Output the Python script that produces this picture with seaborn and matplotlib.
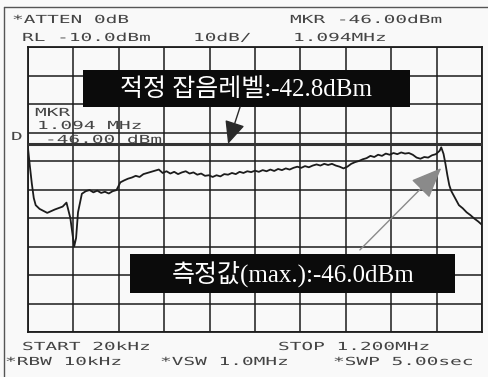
import numpy as np
import seaborn as sns
import matplotlib.pyplot as plt
from matplotlib import patheffects as pe
from matplotlib.transforms import Affine2D
from matplotlib.lines import Line2D
from matplotlib.patches import Rectangle

# spectrum trace (MHz, dBm)
freq_mhz = [0.020, 0.025, 0.030, 0.035, 0.040, 0.050, 0.060, 0.070, 0.080, 0.090,
            0.100, 0.110, 0.120, 0.130, 0.140, 0.145, 0.150, 0.160, 0.170, 0.180,
            0.190, 0.200, 0.210, 0.220, 0.230, 0.240, 0.250, 0.260, 0.270, 0.280,
            0.290, 0.300, 0.310, 0.320, 0.330, 0.340, 0.350, 0.360, 0.370, 0.380,
            0.390, 0.400, 0.410, 0.420, 0.430, 0.440, 0.450, 0.460, 0.470, 0.480,
            0.490, 0.500, 0.510, 0.520, 0.530, 0.540, 0.550, 0.560, 0.570, 0.580,
            0.590, 0.600, 0.610, 0.620, 0.630, 0.640, 0.650, 0.660, 0.670, 0.680,
            0.690, 0.700, 0.710, 0.720, 0.730, 0.740, 0.750, 0.760, 0.770, 0.780,
            0.790, 0.800, 0.810, 0.820, 0.830, 0.840, 0.850, 0.860, 0.870, 0.880,
            0.890, 0.900, 0.910, 0.920, 0.930, 0.940, 0.950, 0.960, 0.970, 0.980,
            0.990, 1.000, 1.010, 1.020, 1.030, 1.040, 1.050, 1.060, 1.070, 1.080,
            1.090, 1.094, 1.100, 1.105, 1.110, 1.115, 1.120, 1.130, 1.140, 1.150,
            1.160, 1.170, 1.180, 1.190, 1.200]
level_dbm = [-45.5, -52.0, -58.0, -63.0, -65.5, -66.8, -67.5, -68.2, -67.6, -67.0,
             -66.5, -66.0, -64.6, -70.0, -80.0, -77.0, -68.0, -61.5, -60.6, -60.2,
             -61.0, -60.4, -61.2, -60.8, -61.4, -60.6, -60.2, -57.5, -56.8, -56.2,
             -55.8, -55.2, -55.6, -54.6, -54.2, -53.8, -53.4, -53.0, -54.2, -53.6,
             -54.4, -53.8, -54.6, -54.0, -53.6, -54.4, -54.0, -54.8, -54.4, -55.2,
             -55.0, -55.6, -55.0, -55.4, -54.6, -54.8, -54.2, -54.6, -53.8, -54.2,
             -53.6, -53.9, -53.4, -53.8, -53.2, -53.6, -53.0, -53.5, -52.8, -53.2,
             -52.6, -53.0, -52.4, -52.0, -52.4, -51.8, -52.2, -51.6, -51.2, -51.6,
             -51.0, -51.4, -51.0, -51.6, -52.0, -52.6, -52.0, -51.0, -50.4, -50.0,
             -49.4, -49.0, -48.2, -48.6, -47.8, -48.2, -47.4, -47.8, -47.2, -47.6,
             -47.0, -47.4, -47.2, -47.8, -48.8, -49.2, -48.6, -48.8, -48.0, -47.6,
             -46.4, -45.2, -47.5, -51.0, -55.0, -58.5, -60.5, -63.0, -65.5, -66.6,
             -68.0, -69.0, -70.2, -71.2, -72.4]

noise_line_dbm = -44.0
marker_freq = 1.094
marker_arrow_dbm = -52.5

top_texts = [("*ATTEN 0dB", 12, 20), ("MKR -46.00dBm", 290, 20),
             ("RL -10.0dBm", 22, 38), ("10dB/", 193, 38), ("1.094MHz", 293, 38)]
bottom_texts = [("START 20kHz", 22, 347), ("STOP 1.200MHz", 278, 347),
                ("*RBW 10kHz", 5, 362), ("*VSW 1.0MHz", 160, 362),
                ("*SWP 5.00sec", 333, 362)]
inner_texts = [("MKR", 35, 113), ("1.094 MHz", 37, 126), ("-46.00 dBm", 45, 140),
               ("D", 11, 137)]

W, H = 489, 377
INK = '#1c1c1c'


class Stretch(pe.AbstractPathEffect):
    """widen text horizontally about its left edge (plotter style lettering)"""
    def __init__(self, sx, x0):
        super().__init__()
        self.sx = sx
        self.x0 = x0

    def draw_path(self, renderer, gc, tpath, affine, rgbFace=None):
        aff = affine + Affine2D().translate(-self.x0, 0).scale(self.sx, 1).translate(self.x0, 0)
        renderer.draw_path(gc, tpath, aff, rgbFace)


sns.set_style('white')
fig = plt.figure(figsize=(W / 100, H / 100), dpi=100, facecolor='#f9f9f9')
ax = fig.add_axes([28 / W, (H - 332) / H, 454 / W, 285 / H])
ax.set_facecolor('#f9f9f9')

sns.lineplot(x=freq_mhz, y=level_dbm, ax=ax, color=INK, lw=1.3)
ax.axhline(noise_line_dbm, color='#333333', lw=2.2, zorder=3)

ax.set_xlim(0.02, 1.20)
ax.set_ylim(-110, -10)
ax.set_xticks(np.linspace(0.02, 1.20, 11))
ax.set_yticks(np.arange(-110, -9, 10))
ax.tick_params(length=0, labelbottom=False, labelleft=False)
ax.grid(True, color=INK, lw=1.1)
ax.set_xlabel('')
ax.set_ylabel('')
for s in ax.spines.values():
    s.set_color(INK)
    s.set_linewidth(1.3)

# screen annotation texts
for txt, x, y in top_texts + bottom_texts + inner_texts:
    fig.text(x / W, 1 - y / H, txt, ha='left', va='center', fontsize=8,
             family='DejaVu Sans Mono', color='#444444',
             path_effects=[Stretch(1.75, x)])

# outer frame of the scanned screen
fig.add_artist(Line2D([4 / W, 4 / W], [1 - 7 / H, 0], transform=fig.transFigure,
                      color='#555555', lw=1))
fig.add_artist(Line2D([4 / W, 1], [1 - 7 / H, 1 - 7 / H], transform=fig.transFigure,
                      color='#555555', lw=1))

kfont = ['Liberation Serif', 'Noto Sans CJK KR']
# label boxes
ax.add_patch(Rectangle((0.121, 0.789), 0.720, 0.130, transform=ax.transAxes,
                       facecolor='#0b0b0b', edgecolor='none', zorder=5))
ax.text(0.481, 0.852, '적정 잡음레벨:-42.8dBm', transform=ax.transAxes,
        ha='center', va='center', color='white', fontsize=18, family=kfont, zorder=6)
ax.add_patch(Rectangle((0.225, 0.137), 0.715, 0.137, transform=ax.transAxes,
                       facecolor='#0b0b0b', edgecolor='none', zorder=5))
ax.text(0.583, 0.205, '측정값(max.):-46.0dBm', transform=ax.transAxes,
        ha='center', va='center', color='white', fontsize=18, family=kfont, zorder=6)

# arrows
ax.annotate('', xy=(0.54, noise_line_dbm), xycoords='data',
            xytext=(0.467, 0.789), textcoords='axes fraction',
            arrowprops=dict(arrowstyle='-|>,head_length=1.0,head_width=0.45',
                            color='#2a2a2a', lw=1, mutation_scale=14, shrinkA=0, shrinkB=0),
            zorder=7)
ax.annotate('', xy=(marker_freq, marker_arrow_dbm), xycoords='data',
            xytext=(0.731, 0.288), textcoords='axes fraction',
            arrowprops=dict(arrowstyle='-|>,head_length=1.2,head_width=0.5',
                            color='#8a8a8a', lw=1, mutation_scale=16, shrinkA=0, shrinkB=0),
            zorder=7)

fig.savefig('out.png', dpi=100, facecolor=fig.get_facecolor())
